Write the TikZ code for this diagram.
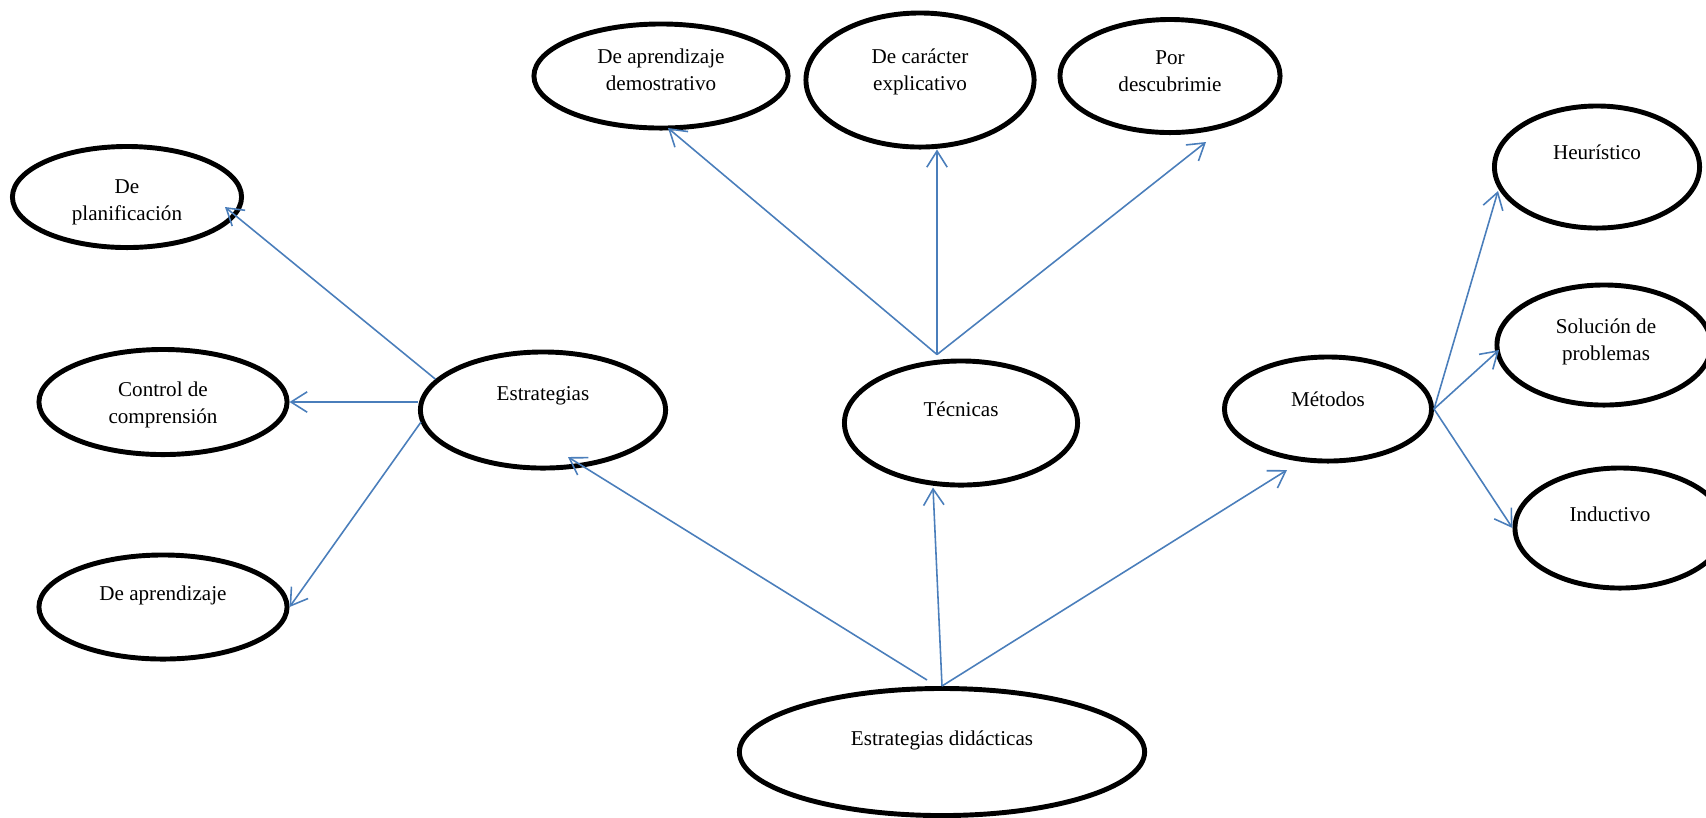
\documentclass[tikz,border=0pt]{standalone}
\usepackage{fontspec}
\setmainfont{Liberation Serif}
\usepackage{tikz}
\usetikzlibrary{shapes.geometric,arrows.meta,calc}
\definecolor{linkblue}{HTML}{4A7EBB}

\begin{document}
\begin{tikzpicture}[
  x=0.01cm, y=-0.01cm,
  font=\fontsize{6}{7.7}\selectfont,
  oval/.style={ellipse, draw, line width=1.4pt, inner sep=0pt},
  txt/.style={align=center, inner sep=0pt},
  link/.style={draw=linkblue, line width=0.45pt,
               -{Straight Barb[length=4.6pt, width=5.8pt]}},
]
  \useasboundingbox (0,0) rectangle (1706,817);
  % ── Left branch ──
  \node[oval, minimum width=2.29cm, minimum height=1.01cm,
        label={[txt, yshift=-0.05cm]center:De\\planificación}] (plan) at (127,197) {};
  \node[oval, minimum width=2.48cm, minimum height=1.05cm,
        label={[txt, yshift=-0.03cm]center:Control de\\comprensión}] (ctrl) at (163,402) {};
  \node[oval, minimum width=2.48cm, minimum height=1.04cm,
        label={[txt, yshift=0.12cm]center:De aprendizaje}] (apr) at (163,607) {};
  % ── Middle row ──
  \node[oval, minimum width=2.45cm, minimum height=1.16cm,
        label={[txt, yshift=0.14cm]center:Estrategias}] (est) at (543,410) {};
  \node[oval, minimum width=2.33cm, minimum height=1.24cm,
        label={[txt, yshift=0.14cm]center:Técnicas}] (tec) at (961,423) {};
  \node[oval, minimum width=2.07cm, minimum height=1.04cm,
        label={[txt, yshift=0.10cm]center:Métodos}] (met) at (1328,409) {};
  % ── Top row ──
  \node[oval, minimum width=2.54cm, minimum height=1.04cm,
        label={[txt, yshift=0.06cm]center:De aprendizaje\\demostrativo}] (dem) at (661,76) {};
  \node[oval, minimum width=2.28cm, minimum height=1.34cm,
        label={[txt, yshift=0.08cm]center:De carácter\\explicativo}] (exp) at (920,80) {};
  \node[oval, minimum width=2.20cm, minimum height=1.13cm,
        label={[txt, yshift=0.05cm]center:Por\\descubrimie}] (desc) at (1170,76) {};
  % ── Right column ──
  \node[oval, minimum width=2.05cm, minimum height=1.22cm,
        label={[txt, yshift=0.15cm]center:Heurístico}] (heu) at (1597,167) {};
  \node[oval, minimum width=2.14cm, minimum height=1.20cm,
        label={[txt, yshift=0.03cm, xshift=0.02cm]center:Solución de\\problemas}] (sol) at (1604,345) {};
  \node[oval, minimum width=2.10cm, minimum height=1.20cm,
        label={[txt, yshift=0.14cm, xshift=-0.10cm]center:Inductivo}] (ind) at (1620,528) {};
  % ── Root ──
  \node[oval, minimum width=4.05cm, minimum height=1.27cm,
        label={[txt, yshift=0.12cm]center:Estrategias didácticas}] (did) at (942,752) {};

  % ── Connectors ──
  \coordinate (tt) at ($(tec.north)+(-24,-4)$);
  \draw[link] ($(did.north)+(-15,-6)$) -- ($(est.center)+(25,47)$);
  \draw[link] (did.north) -- ($(tec.south)+(-28,0)$);
  \draw[link] (did.north) -- ($(met.center)+(-41,61)$);
  \draw[link] (est.164) -- ($(plan.center)+(98,10)$);
  \draw[link] (ctrl.east -| est.west) -- (ctrl.east);
  \draw[link] ($(est.center)+(-122,12)$) -- (apr.east);
  \draw[link] (tt) -- ($(dem.center)+(7,52)$);
  \draw[link] (tt) -- (tt |- exp.south);
  \draw[link] (tt) -- ($(desc.center)+(36,66)$);
  \draw[link] (met.east) -- ($(heu.center)+(-99,24)$);
  \draw[link] (met.east) -- ($(sol.center)+(-105,5)$);
  \draw[link] (met.east) -- (ind.west);
\end{tikzpicture}
\end{document}
